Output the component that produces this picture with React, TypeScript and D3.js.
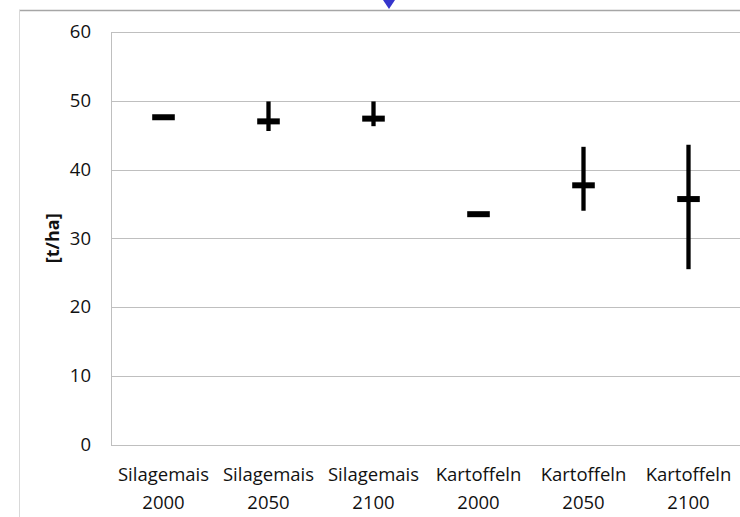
import React from "react";
import * as d3 from "d3";

const crops = ["Silagemais", "Silagemais", "Silagemais", "Kartoffeln", "Kartoffeln", "Kartoffeln"];
const years = ["2000", "2050", "2100", "2000", "2050", "2100"];
const highValues = [47.6, 49.9, 49.9, 33.5, 43.3, 43.6];
const lowValues = [47.6, 45.6, 46.3, 33.5, 34.0, 25.5];
const midValues = [47.6, 47.0, 47.4, 33.5, 37.7, 35.7];
const yTicks = [0, 10, 20, 30, 40, 50, 60];
const yTitle = "[t/ha]";

const W = 740;
const H = 517;
const plotLeft = 111;
const plotRight = 741;
const plotTop = 32;
const plotBottom = 444.5;
const FONT = "'Open Sans', sans-serif";

export default function App() {
  const keys = crops.map((c, i) => `${c} ${years[i]}`);
  const x = d3.scaleBand<string>().domain(keys).range([plotLeft, plotRight]).padding(0);
  const y = d3.scaleLinear().domain([0, 60]).range([plotBottom, plotTop]);
  const cx = (i: number) => (x(keys[i]) as number) + x.bandwidth() / 2;

  return (
    <svg
      width={W}
      height={H}
      style={{ position: "absolute", left: 0, top: 0, display: "block", background: "#fff" }}
    >
      {/* outer frame */}
      <line x1={19} x2={W} y1={10.5} y2={10.5} stroke="#a6a6a6" strokeWidth={1.5} />
      <line x1={19.5} x2={19.5} y1={10} y2={H} stroke="#d9d9d9" strokeWidth={1} />
      <path d="M383,0 L395,0 L389,9 Z" fill="#3535cc" />

      {/* grid */}
      {yTicks.map((t) => (
        <line
          key={t}
          x1={plotLeft}
          x2={plotRight}
          y1={Math.round(y(t)) + 0.5}
          y2={Math.round(y(t)) + 0.5}
          stroke="#bfbfbf"
          strokeWidth={1}
        />
      ))}
      <line x1={plotLeft + 0.5} x2={plotLeft + 0.5} y1={plotTop} y2={plotBottom + 1} stroke="#bfbfbf" strokeWidth={1} />

      {/* y tick labels */}
      {yTicks.map((t) => (
        <text
          key={"l" + t}
          x={91}
          y={y(t)}
          dy="0.35em"
          textAnchor="end"
          fontFamily={FONT}
          fontSize={18.5}
          fill="#111"
        >
          {t}
        </text>
      ))}

      {/* y title */}
      <text
        transform={`translate(59, ${(plotTop + plotBottom) / 2}) rotate(-90)`}
        textAnchor="middle"
        fontFamily={FONT}
        fontSize={18}
        fontWeight="bold"
        fill="#111"
      >
        {yTitle}
      </text>

      {/* x labels */}
      {keys.map((k, i) => (
        <text key={"x" + k} textAnchor="middle" fontFamily={FONT} fontSize={18.5} fill="#111">
          <tspan x={cx(i)} y={481}>
            {crops[i]}
          </tspan>
          <tspan x={cx(i)} y={508.5}>
            {years[i]}
          </tspan>
        </text>
      ))}

      {/* high-low lines and mid ticks */}
      {keys.map((k, i) => (
        <g key={"m" + k}>
          {highValues[i] !== lowValues[i] && (
            <line
              x1={cx(i)}
              x2={cx(i)}
              y1={y(highValues[i])}
              y2={y(lowValues[i])}
              stroke="#000"
              strokeWidth={4.3}
            />
          )}
          <line
            x1={cx(i) - 11.3}
            x2={cx(i) + 11.3}
            y1={y(midValues[i])}
            y2={y(midValues[i])}
            stroke="#000"
            strokeWidth={6}
          />
        </g>
      ))}
    </svg>
  );
}
